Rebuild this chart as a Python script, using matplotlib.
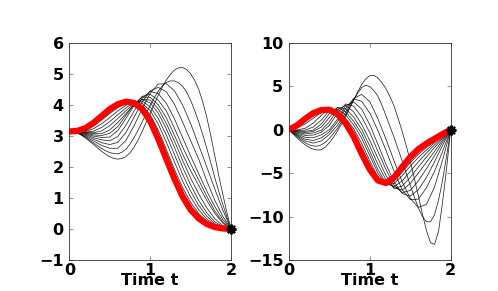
import numpy as np
import matplotlib
matplotlib.use("Agg")
import matplotlib.pyplot as plt

# coarse time grid (most iterates) and fine grid (outer iterates)
t = [0.0, 0.1, 0.2, 0.3, 0.4, 0.5, 0.6, 0.7, 0.8, 0.9, 1.0,
     1.1, 1.2, 1.3, 1.4, 1.5, 1.6, 1.7, 1.8, 1.9, 2.0]
t_fine = [0.0, 0.05, 0.1, 0.15, 0.2, 0.25, 0.3, 0.35, 0.4, 0.45, 0.5,
          0.55, 0.6, 0.65, 0.7, 0.75, 0.8, 0.85, 0.9, 0.95, 1.0,
          1.05, 1.1, 1.15, 1.2, 1.25, 1.3, 1.35, 1.4, 1.45, 1.5,
          1.55, 1.6, 1.65, 1.7, 1.75, 1.8, 1.85, 1.9, 1.95, 2.0]

# ---- Left panel: angle iterates ----
theta_it0 = [3.14, 3.13, 3.09, 3.02, 2.93, 2.83, 2.72, 2.61, 2.50, 2.41, 2.33,
             2.27, 2.25, 2.27, 2.33, 2.45, 2.63, 2.86, 3.14, 3.43, 3.72,
             4.02, 4.31, 4.57, 4.80, 4.98, 5.12, 5.19, 5.20, 5.14, 5.00,
             4.79, 4.50, 4.10, 3.60, 3.00, 2.35, 1.70, 1.10, 0.52, 0.0]
theta_it1 = [3.14, 3.13, 3.09, 3.03, 2.95, 2.86, 2.77, 2.68, 2.59, 2.52, 2.46,
             2.43, 2.42, 2.47, 2.57, 2.73, 2.94, 3.18, 3.44, 3.71, 3.98,
             4.22, 4.44, 4.61, 4.72, 4.77, 4.77, 4.71, 4.60, 4.41, 4.15,
             3.82, 3.45, 3.04, 2.60, 2.13, 1.65, 1.20, 0.78, 0.38, 0.0]
theta_iter = [
    [3.14, 3.10, 2.98, 2.83, 2.69, 2.60, 2.60, 2.85, 3.32, 3.87, 4.37, 4.67, 4.68, 4.45, 4.00, 3.40, 2.70, 2.00, 1.28, 0.60, 0.0],
    [3.14, 3.10, 3.01, 2.89, 2.78, 2.72, 2.79, 3.11, 3.59, 4.09, 4.45, 4.56, 4.42, 4.02, 3.45, 2.85, 2.25, 1.55, 0.92, 0.40, 0.0],
    [3.14, 3.11, 3.04, 2.94, 2.87, 2.84, 2.98, 3.34, 3.80, 4.21, 4.43, 4.36, 4.05, 3.55, 2.95, 2.35, 1.78, 1.22, 0.72, 0.30, 0.0],
    [3.14, 3.12, 3.06, 2.99, 2.95, 2.96, 3.17, 3.56, 3.97, 4.27, 4.34, 4.15, 3.80, 3.25, 2.65, 2.10, 1.58, 1.05, 0.58, 0.22, 0.0],
    [3.14, 3.12, 3.08, 3.03, 3.01, 3.08, 3.30, 3.66, 4.02, 4.25, 4.24, 4.00, 3.58, 3.02, 2.42, 1.88, 1.40, 0.92, 0.50, 0.18, 0.0],
    [3.14, 3.13, 3.10, 3.07, 3.07, 3.19, 3.43, 3.72, 3.99, 4.18, 4.15, 3.87, 3.40, 2.83, 2.22, 1.64, 1.13, 0.68, 0.33, 0.10, 0.0],
    [3.14, 3.13, 3.11, 3.10, 3.16, 3.33, 3.56, 3.81, 4.03, 4.17, 4.06, 3.73, 3.23, 2.63, 2.00, 1.42, 0.92, 0.52, 0.23, 0.07, 0.0],
    [3.14, 3.13, 3.12, 3.15, 3.27, 3.46, 3.68, 3.90, 4.08, 4.12, 3.94, 3.56, 3.02, 2.40, 1.77, 1.22, 0.76, 0.41, 0.17, 0.05, 0.0],
    [3.14, 3.13, 3.14, 3.23, 3.39, 3.59, 3.80, 3.98, 4.11, 4.05, 3.82, 3.38, 2.80, 2.16, 1.55, 1.03, 0.62, 0.32, 0.13, 0.035, 0.0],
    [3.14, 3.14, 3.19, 3.32, 3.51, 3.72, 3.91, 4.05, 4.10, 3.98, 3.68, 3.18, 2.56, 1.92, 1.34, 0.86, 0.50, 0.25, 0.10, 0.03, 0.0],
]
theta_final = [3.14, 3.16, 3.25, 3.42, 3.64, 3.86, 4.02, 4.10, 4.06, 3.87, 3.48,
               2.90, 2.25, 1.62, 1.05, 0.62, 0.34, 0.16, 0.06, 0.015, 0.0]

# ---- Right panel: angular velocity iterates ----
omega_it0 = [0, -0.5, -0.95, -1.38, -1.75, -2.05, -2.25, -2.35, -2.3, -2.0, -1.5,
             -0.88, -0.15, 0.65, 1.5, 2.45, 3.4, 4.35, 5.2, 5.85, 6.2,
             6.25, 5.95, 5.4, 4.7, 3.8, 2.7, 1.3, -0.2, -1.85, -3.6,
             -5.6, -7.6, -9.7, -11.6, -13.0, -13.2, -11.7, -8.3, -4.4, 0]
omega_it1 = [0, -0.42, -0.8, -1.18, -1.5, -1.75, -1.88, -1.9, -1.75, -1.45, -1.0,
             -0.45, 0.15, 0.9, 1.7, 2.55, 3.4, 4.2, 4.85, 5.1, 4.95,
             4.5, 3.85, 2.8, 1.6, 0.35, -0.9, -2.25, -3.6, -5.0, -6.4,
             -7.75, -9.0, -10.0, -10.6, -10.6, -9.8, -8.1, -5.8, -3.0, 0]
omega_iter = [
    [0, -0.7, -1.3, -1.55, -1.3, -0.55, 0.5, 2.0, 3.6, 4.05, 3.2, 1.25, -1.1, -3.6, -6.0, -7.9, -8.95, -8.6, -6.6, -3.5, 0],
    [0, -0.6, -1.1, -1.25, -0.95, -0.25, 0.9, 2.4, 3.55, 3.25, 1.9, -0.1, -2.4, -4.8, -6.9, -8.05, -8.0, -6.7, -4.8, -2.5, 0],
    [0, -0.5, -0.88, -0.93, -0.6, 0.0, 1.2, 2.75, 3.2, 2.35, 0.55, -1.7, -4.0, -6.0, -7.35, -7.65, -6.9, -5.5, -3.7, -1.8, 0],
    [0, -0.4, -0.67, -0.62, -0.3, 0.5, 1.9, 2.95, 2.7, 1.45, -0.35, -2.5, -4.6, -6.4, -7.25, -7.0, -5.9, -4.5, -3.0, -1.45, 0],
    [0, -0.3, -0.5, -0.38, -0.08, 0.9, 2.3, 2.78, 2.05, 0.6, -1.25, -3.3, -5.3, -6.7, -6.95, -6.2, -5.0, -3.75, -2.5, -1.2, 0],
    [0, -0.22, -0.34, -0.2, 0.3, 1.4, 2.55, 2.4, 1.45, 0.0, -1.9, -4.0, -5.8, -6.75, -6.5, -5.5, -4.3, -3.15, -2.05, -1.0, 0],
    [0, -0.16, -0.2, -0.05, 0.65, 1.85, 2.55, 2.05, 0.95, -0.5, -2.5, -4.6, -6.2, -6.55, -5.9, -4.8, -3.7, -2.7, -1.75, -0.85, 0],
    [0, -0.1, -0.06, 0.3, 1.1, 2.2, 2.35, 1.7, 0.55, -1.0, -3.0, -5.0, -6.35, -6.2, -5.3, -4.2, -3.2, -2.35, -1.5, -0.72, 0],
    [0, -0.03, 0.15, 0.75, 1.65, 2.38, 2.2, 1.3, 0.1, -1.6, -3.6, -5.5, -6.35, -5.9, -4.9, -3.8, -2.85, -2.05, -1.35, -0.65, 0],
    [0, 0.2, 0.65, 1.3, 2.0, 2.35, 1.95, 0.95, -0.35, -2.1, -4.0, -5.7, -6.25, -5.75, -4.65, -3.5, -2.55, -1.82, -1.2, -0.58, 0],
]
omega_final = [0, 0.5, 1.25, 1.9, 2.25, 2.3, 1.8, 0.75, -0.8, -2.8, -4.6,
               -5.85, -6.15, -5.5, -4.3, -3.15, -2.25, -1.6, -1.05, -0.5, 0]

target_t = [2.0]
target_theta = [0.0]
target_omega = [0.0]

xticks = [0, 1, 2]
yticks_left = [-1, 0, 1, 2, 3, 4, 5, 6]
yticks_right = [-15, -10, -5, 0, 5, 10]
xlabel = "Time t"

fig = plt.figure(figsize=(4.98, 2.91), dpi=100)
ax1 = fig.add_axes([0.1392, 0.1065, 0.3247, 0.7467])
ax2 = fig.add_axes([0.5803, 0.1065, 0.3247, 0.7467])

def style(ax, yticks):
    ax.set_xlim(0, 2)
    ax.set_ylim(yticks[0], yticks[-1])
    ax.set_xticks(xticks)
    ax.set_yticks(yticks)
    ax.set_xticklabels([str(v) for v in xticks])
    ax.set_yticklabels([str(v).replace('-', '\u2212') for v in yticks])
    ax.tick_params(direction='in', length=3, width=0.5, top=True, right=True,
                   labelsize=11.5, colors='#666666', labelcolor='black')
    ax.tick_params(axis='x', pad=2)
    ax.tick_params(axis='y', pad=4)
    for lab in ax.get_xticklabels() + ax.get_yticklabels():
        lab.set_fontweight('bold')
    for s in ax.spines.values():
        s.set_linewidth(0.6)
        s.set_color('#333333')
    ax.set_xlabel(xlabel, fontsize=11.5, fontweight='bold')
    ax.xaxis.set_label_coords(0.5, -0.058)

panels = [
    (ax1, [theta_it0, theta_it1], theta_iter, theta_final, target_theta, yticks_left),
    (ax2, [omega_it0, omega_it1], omega_iter, omega_final, target_omega, yticks_right),
]
for ax, fine, fam, fin, tgt, yt in panels:
    for c in fine:
        ax.plot(t_fine, c, color='black', lw=0.55, alpha=0.85)
    for c in fam:
        ax.plot(t, c, color='black', lw=0.55, alpha=0.85)
    ax.plot(t, fin, color='red', lw=4.5, solid_capstyle='round')
    ax.plot(target_t, tgt, linestyle='none', marker=(8, 2, 0), markersize=7,
            markeredgewidth=1.6, color='black', clip_on=False, zorder=5)
    style(ax, yt)

fig.savefig("out.png", dpi=100)
